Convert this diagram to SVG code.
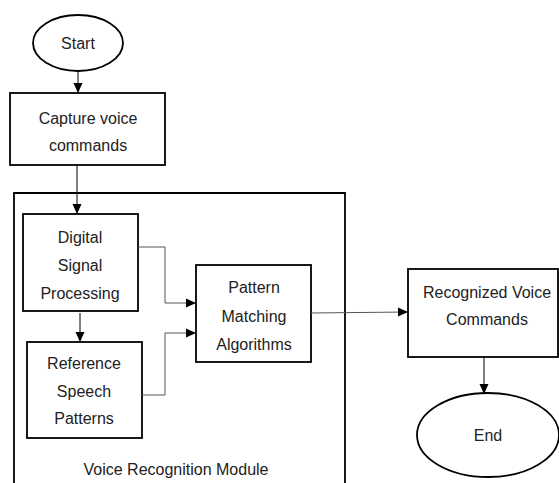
<svg xmlns="http://www.w3.org/2000/svg" width="559" height="483" viewBox="0 0 559 483">
<defs>
<marker id="arr" markerWidth="10" markerHeight="10" refX="9" refY="5" orient="auto" markerUnits="userSpaceOnUse">
<path d="M0,0.5 L10,5 L0,9.5 Z" fill="#000"/>
</marker>
<style>
.box{fill:#fff;stroke:#000;stroke-width:1.8}
.t{font-family:"Liberation Sans",Arial,sans-serif;font-size:16px;fill:#222;text-anchor:middle}
.c{fill:none;stroke:#000;stroke-width:1}
.g{fill:none;stroke:#555;stroke-width:1}
</style>
</defs>
<rect width="559" height="483" fill="#fff"/>
<g id="module">
<path d="M14,490 L14,193 L345,193 L345,490" fill="none" stroke="#000" stroke-width="1.8"/>
<text class="t" x="176" y="475">Voice Recognition  Module</text>
</g>
<g id="start">
<ellipse class="box" cx="78" cy="43" rx="45" ry="28"/>
<text class="t" x="78" y="49">Start</text>
</g>
<g id="capture">
<rect class="box" x="10" y="93" width="155" height="72"/>
<text class="t" x="88" y="124">Capture voice</text>
<text class="t" x="88" y="151">commands</text>
</g>
<g id="dsp">
<rect class="box" x="23" y="214" width="115" height="97"/>
<text class="t" x="80" y="243">Digital</text>
<text class="t" x="80" y="271">Signal</text>
<text class="t" x="80" y="299">Processing</text>
</g>
<g id="reference">
<rect class="box" x="27" y="342" width="115" height="96"/>
<text class="t" x="84" y="369">Reference</text>
<text class="t" x="84" y="397">Speech</text>
<text class="t" x="84" y="424">Patterns</text>
</g>
<g id="pattern">
<rect class="box" x="196" y="265" width="115" height="97"/>
<text class="t" x="254" y="293">Pattern</text>
<text class="t" x="254" y="322">Matching</text>
<text class="t" x="254" y="350">Algorithms</text>
</g>
<g id="recognized">
<rect class="box" x="408" y="269" width="150" height="88"/>
<text class="t" x="487" y="298">Recognized Voice</text>
<text class="t" x="487" y="325">Commands</text>
</g>
<g id="end">
<ellipse class="box" cx="488" cy="435" rx="71" ry="42"/>
<text class="t" x="488" y="441">End</text>
</g>
<g id="connectors">
<path class="c" d="M78,71 L78,92" marker-end="url(#arr)"/>
<path class="c" d="M77,165 L77,213" marker-end="url(#arr)"/>
<path class="c" d="M80,313 L80,341" marker-end="url(#arr)"/>
<path class="g" d="M138,247 L165,247 L165,303 L195,303" marker-end="url(#arr)"/>
<path class="g" d="M142,395 L165,395 L165,333 L195,333" marker-end="url(#arr)"/>
<path class="g" d="M311,313 L407,312" marker-end="url(#arr)"/>
<path class="c" d="M484,357 L484,393" marker-end="url(#arr)"/>
</g>
</svg>
